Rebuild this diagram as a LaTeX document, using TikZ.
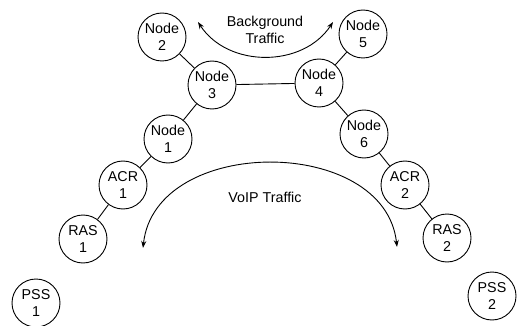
\documentclass[tikz,border=0pt]{standalone}
\usepackage{fontspec}
\setmainfont{Liberation Sans}
\usetikzlibrary{arrows.meta}
\begin{document}
\begin{tikzpicture}[x=1pt,y=-1pt,
  nd/.style={circle,draw,line width=0.9pt,minimum size=48pt,inner sep=0pt,align=center,
    font=\fontsize{14.3}{17}\selectfont},
  lnk/.style={line width=0.9pt},
  flow/.style={line width=0.9pt,{Stealth[length=7pt,width=5pt]}-{Stealth[length=7pt,width=5pt]}},
  lbl/.style={align=center,font=\fontsize{14.3}{16.5}\selectfont}]
\useasboundingbox (0,0) rectangle (522,326);
\node[nd] (n2) at (162,37) {Node\\2};
\node[nd] (n3) at (212,85) {Node\\3};
\node[nd] (n1) at (168,139) {Node\\1};
\node[nd] (acr1) at (123,185) {ACR\\1};
\node[nd] (ras1) at (83,239) {RAS\\1};
\node[nd] (pss1) at (36,303) {PSS\\1};
\node[nd] (n5) at (363,34) {Node\\5};
\node[nd] (n4) at (319,83) {Node\\4};
\node[nd] (n6) at (364,134) {Node\\6};
\node[nd] (acr2) at (405,185) {ACR\\2};
\node[nd] (ras2) at (447,238) {RAS\\2};
\node[nd] (pss2) at (492,296) {PSS\\2};
\draw[lnk] (n2) -- (n3);
\draw[lnk] (n3) -- (n1);
\draw[lnk] (n1) -- (acr1);
\draw[lnk] (acr1) -- (ras1);
\draw[lnk] (n3) -- (n4);
\draw[lnk] (n4) -- (n5);
\draw[lnk] (n4) -- (n6);
\draw[lnk] (n6) -- (acr2);
\draw[lnk] (acr2) -- (ras2);
\coordinate (b1) at (198,22);
\coordinate (b2) at (333,22);
\coordinate (v1) at (143,248);
\coordinate (v2) at (397,247);
\draw[flow] (b1) .. controls (228,68) and (303,68) .. (b2);
\draw[flow] (v1) .. controls (155,135) and (385,135) .. (v2);
\node[lbl] (bt) at (265,30) {Background\\Traffic};
\node[lbl] (vt) at (265,197) {VoIP Traffic};
\end{tikzpicture}
\end{document}
